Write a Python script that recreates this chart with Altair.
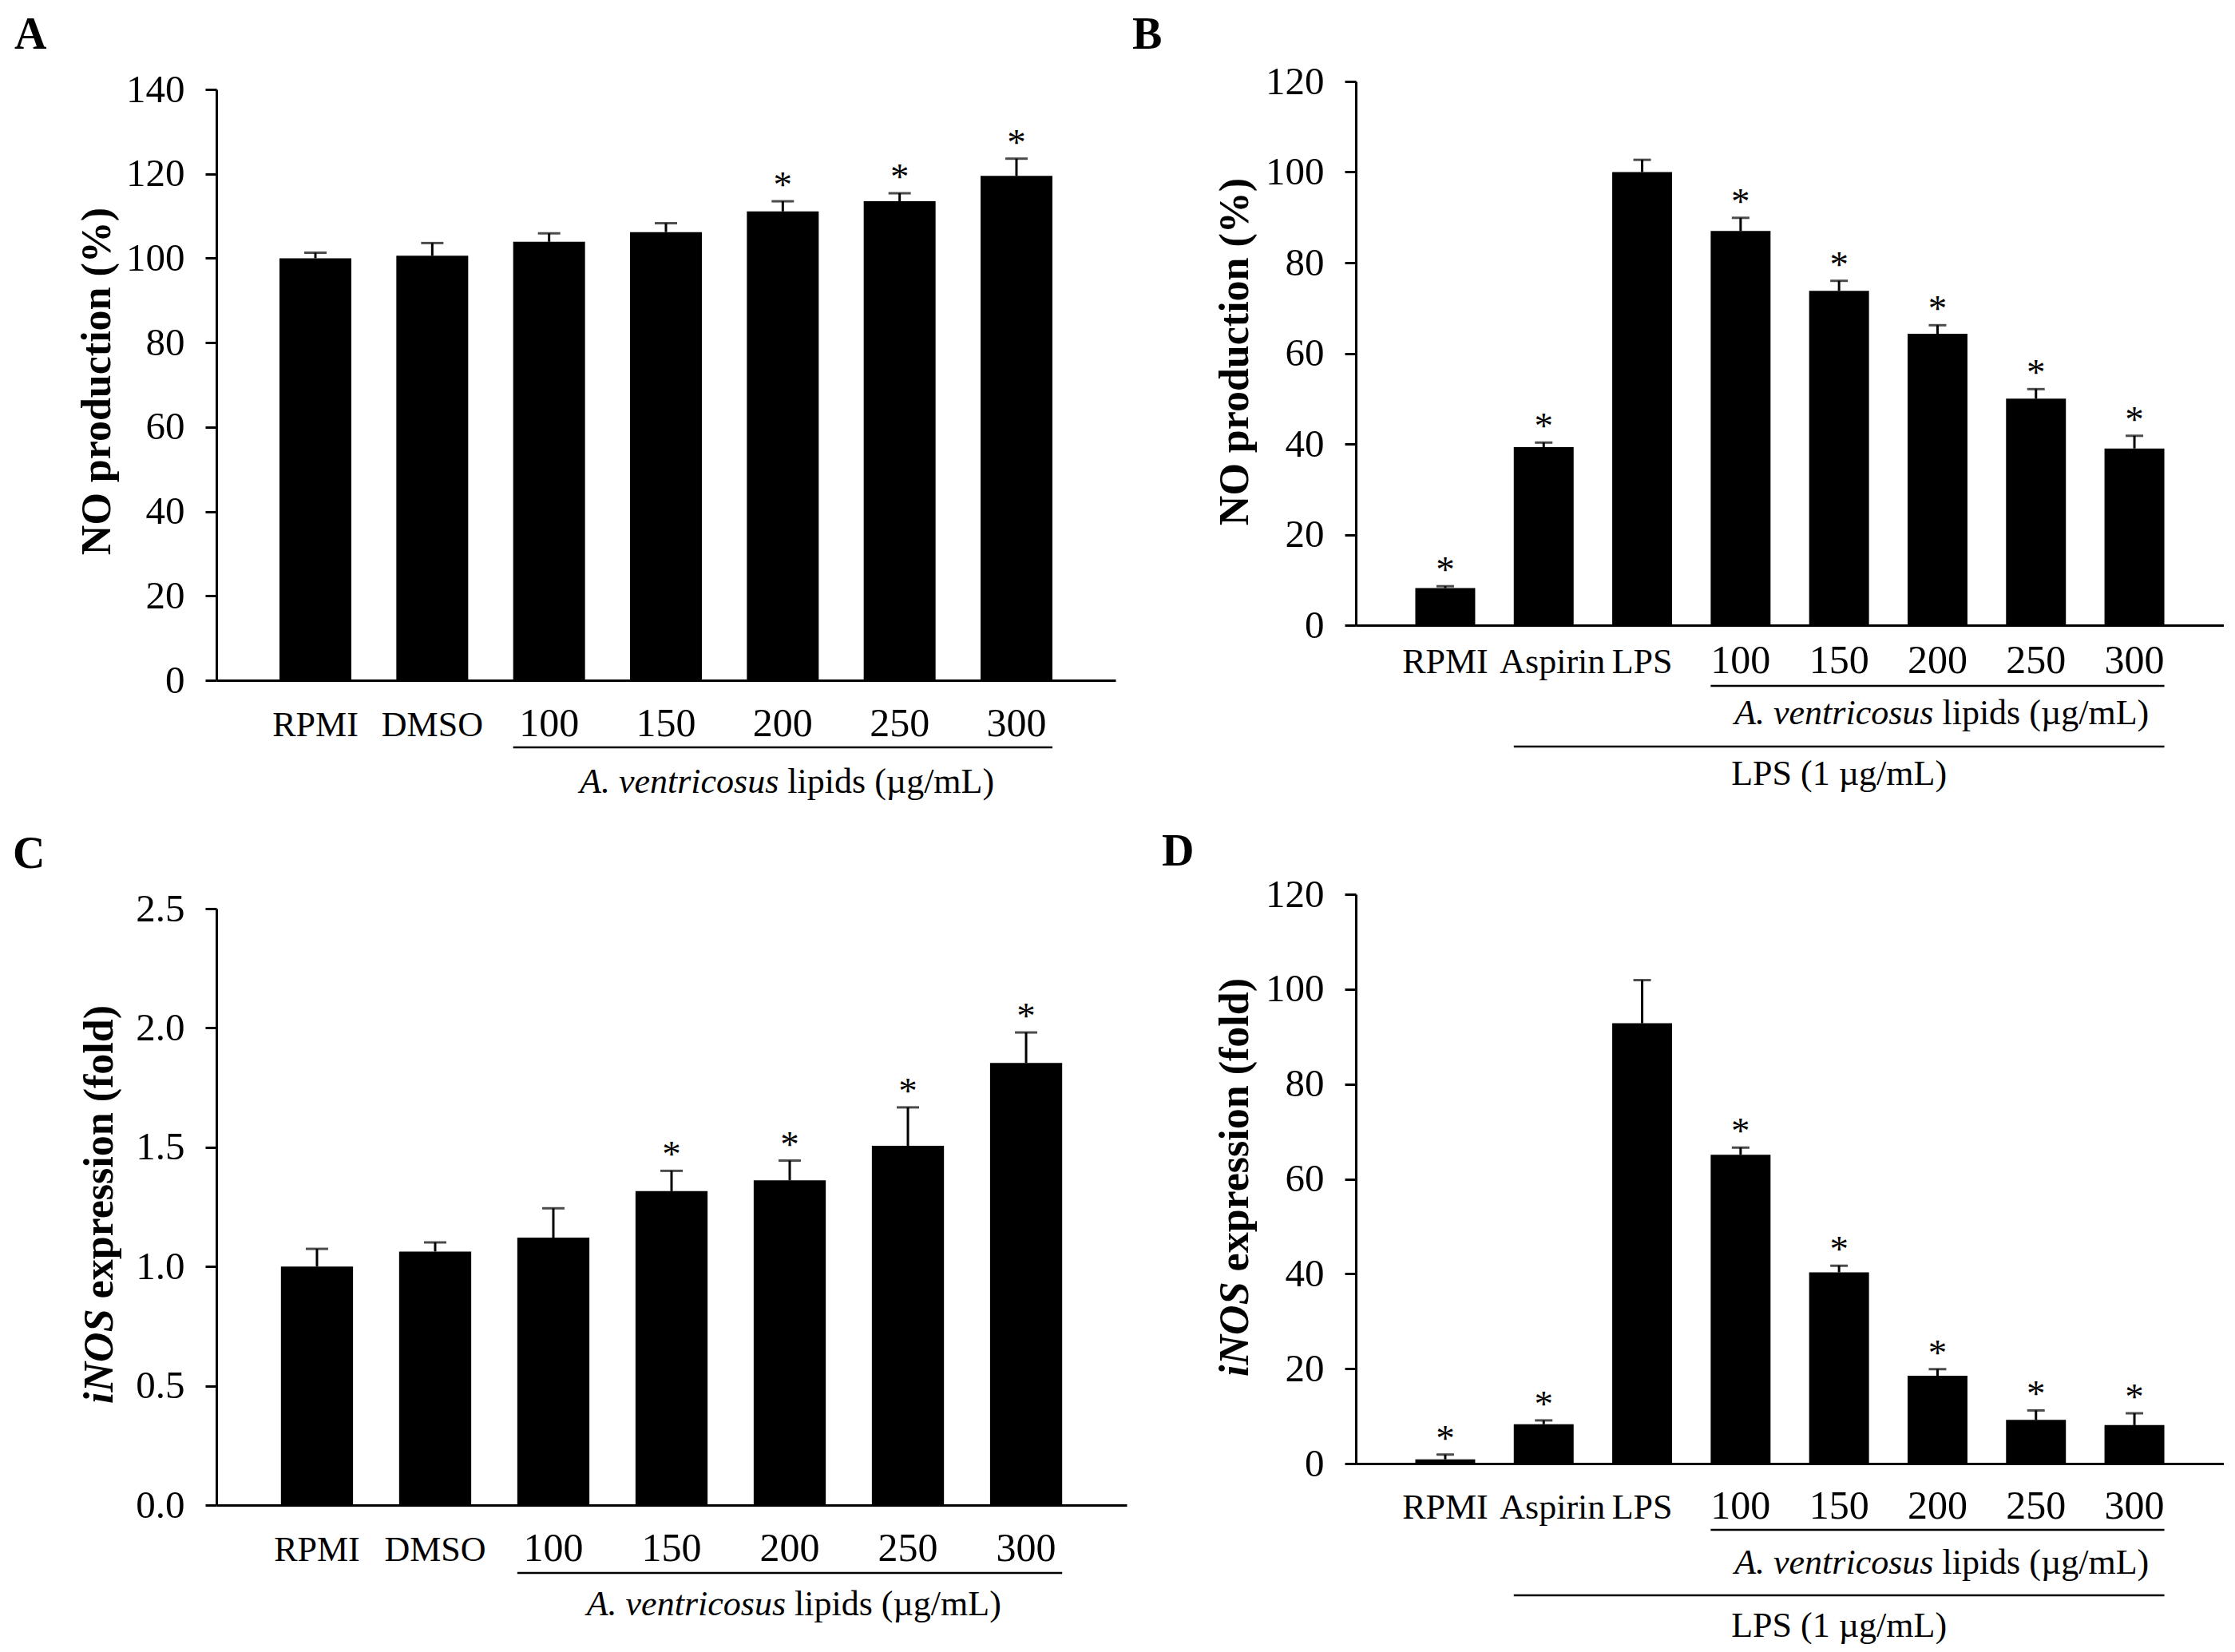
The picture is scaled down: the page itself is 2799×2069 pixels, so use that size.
import altair as alt
import pandas as pd

FONT = "Liberation Serif"

# ---------------- data ----------------
a_cats = ["RPMI", "DMSO", "100", "150", "200", "250", "300"]
a_vals = [100.0, 100.6, 103.9, 106.2, 111.1, 113.5, 119.5]
a_errs = [1.3, 3.0, 2.0, 2.1, 2.4, 1.9, 4.1]
a_sig = [False, False, False, False, True, True, True]
a_ticks = [0, 20, 40, 60, 80, 100, 120, 140]

b_cats = ["RPMI", "Aspirin", "LPS", "100", "150", "200", "250", "300"]
b_vals = [8.2, 39.3, 100.0, 87.0, 73.8, 64.3, 50.0, 39.0]
b_errs = [0.4, 1.0, 2.7, 2.9, 2.2, 1.9, 2.1, 2.8]
b_sig = [True, True, False, True, True, True, True, True]
b_ticks = [0, 20, 40, 60, 80, 100, 120]

c_cats = ["RPMI", "DMSO", "100", "150", "200", "250", "300"]
c_vals = [1.000, 1.063, 1.121, 1.316, 1.361, 1.506, 1.853]
c_errs = [0.074, 0.038, 0.123, 0.085, 0.083, 0.161, 0.128]
c_sig = [False, False, False, True, True, True, True]
c_ticks = [0.0, 0.5, 1.0, 1.5, 2.0, 2.5]

d_cats = ["RPMI", "Aspirin", "LPS", "100", "150", "200", "250", "300"]
d_vals = [0.9, 8.3, 92.8, 65.1, 40.3, 18.5, 9.2, 8.1]
d_errs = [1.0, 0.8, 9.1, 1.5, 1.4, 1.4, 2.0, 2.5]
d_sig = [True, True, False, True, True, True, True, True]
d_ticks = [0, 20, 40, 60, 80, 100, 120]

group_italic = "A. ventricosus"
group_regular = "lipids (\u00b5g/mL)"
lps_label = "LPS (1 \u00b5g/mL)"
title_no = "NO production (%)"
title_inos_it = "iNOS"
title_inos_rest = "expression (fold)"


def build_panel(cats, vals, errs, sig, ticks, ymax, fmt, width, height, top,
                pin, pout, cap, letter, letter_xy, lab_off, ul_off, grp_off,
                ytitle=None, title_xy=None, rot_title=None, lps=None):
    df = pd.DataFrame({"cat": cats, "val": vals, "err": errs, "sig": sig})
    df["top"] = df["val"] + df["err"]

    xs = alt.Scale(domain=cats, paddingInner=pin, paddingOuter=pout)
    xax = alt.Axis(labels=False, ticks=False, title=None, grid=False,
                   domainColor="black", domainWidth=3)
    ys = alt.Scale(domain=[0, ymax], range=[height, top], nice=False, zero=True)
    yax_kw = dict(values=ticks, format=fmt, grid=False, domainColor="black",
                  domainWidth=3, tickColor="black", tickWidth=3, tickSize=14,
                  labelFont=FONT, labelFontSize=49, labelColor="black",
                  labelPadding=26, labelOverlap=False)
    if ytitle:
        yax_kw.update(title=ytitle, titleFont=FONT, titleFontSize=52,
                      titleFontWeight="bold", titleColor="black",
                      titleAngle=270, titleBaseline="middle", titleAlign="center",
                      titleX=title_xy[0], titleY=title_xy[1])
    else:
        yax_kw.update(title=None)
    yax = alt.Axis(**yax_kw)

    X = alt.X("cat:N", scale=xs, axis=xax)
    base = alt.Chart(df)

    bars = base.mark_bar(color="black").encode(
        x=X, y=alt.Y("val:Q", scale=ys, axis=yax))
    err = base.mark_rule(color="black", strokeWidth=3).encode(
        x=X, y=alt.Y("val:Q", scale=ys, axis=yax), y2="top:Q")
    caps = base.mark_tick(color="black", orient="horizontal", size=cap,
                          thickness=3).encode(
        x=X, y=alt.Y("top:Q", scale=ys, axis=yax))
    stars = base.transform_filter("datum.sig").mark_text(
        text="*", font=FONT, fontSize=47, color="black",
        baseline="alphabetic", dy=-5).encode(
        x=X, y=alt.Y("top:Q", scale=ys, axis=yax))

    names = pd.DataFrame({"cat": [c for c in cats if not c.isdigit()]})
    nums = pd.DataFrame({"cat": [c for c in cats if c.isdigit()]})
    name_txt = alt.Chart(names).transform_filter(
        "datum.cat != 'Aspirin'").mark_text(
        font=FONT, fontSize=44, color="black", baseline="alphabetic").encode(
        x=X, y=alt.value(height + lab_off), text="cat:N")
    asp_txt = alt.Chart(names).transform_filter(
        "datum.cat == 'Aspirin'").mark_text(
        font=FONT, fontSize=44, color="black", baseline="alphabetic",
        dx=11).encode(
        x=X, y=alt.value(height + lab_off), text="cat:N")
    num_txt = alt.Chart(nums).mark_text(
        font=FONT, fontSize=50, color="black", baseline="alphabetic").encode(
        x=X, y=alt.value(height + lab_off), text="cat:N")

    first_num = nums["cat"].iloc[0]
    last_num = nums["cat"].iloc[-1]
    ul = alt.Chart(pd.DataFrame({"s": [first_num], "e": [last_num]})).mark_rule(
        color="black", strokeWidth=2.5).encode(
        x=alt.X("s:N", scale=xs, axis=xax, bandPosition=0),
        x2=alt.X2("e:N", bandPosition=1),
        y=alt.value(height + ul_off))

    mid = "200"
    g_it = alt.Chart(pd.DataFrame({"cat": [mid], "t": [group_italic]})).mark_text(
        font=FONT, fontSize=44, fontStyle="italic", color="black",
        align="right", baseline="alphabetic", dx=-5).encode(
        x=X, y=alt.value(height + grp_off), text="t:N")
    g_rg = alt.Chart(pd.DataFrame({"cat": [mid], "t": [group_regular]})).mark_text(
        font=FONT, fontSize=44, color="black",
        align="left", baseline="alphabetic", dx=6).encode(
        x=X, y=alt.value(height + grp_off), text="t:N")

    let = alt.Chart(pd.DataFrame({"t": [letter]})).mark_text(
        font=FONT, fontSize=56, fontWeight="bold", color="black",
        align="left", baseline="alphabetic").encode(
        x=alt.value(letter_xy[0]), y=alt.value(letter_xy[1]), text="t:N")

    layers = [bars, err, caps, stars, name_txt, asp_txt, num_txt, ul, g_it, g_rg, let]

    if lps is not None:
        rule_off, lab2_off = lps
        lps_rule = alt.Chart(pd.DataFrame({"s": [cats[1]], "e": [cats[-1]]})).mark_rule(
            color="black", strokeWidth=2.5).encode(
            x=alt.X("s:N", scale=xs, axis=xax, bandPosition=0),
            x2=alt.X2("e:N", bandPosition=1),
            y=alt.value(height + rule_off))
        lps_txt = alt.Chart(pd.DataFrame({"cat": ["150"], "t": [lps_label]})).mark_text(
            font=FONT, fontSize=44, color="black", baseline="alphabetic").encode(
            x=X, y=alt.value(height + lab2_off), text="t:N")
        layers += [lps_rule, lps_txt]

    if rot_title is not None:
        tx, center = rot_title
        fs = 52
        w_it = 2.278 * fs
        gap = 0.25 * fs
        w_rest = 7.083 * fs
        total = w_it + gap + w_rest
        anchor = center + total / 2 - w_it
        t_it = alt.Chart(pd.DataFrame({"t": [title_inos_it]})).mark_text(
            font=FONT, fontSize=fs, fontWeight="bold", fontStyle="italic",
            color="black", angle=270, align="right", baseline="middle").encode(
            x=alt.value(tx), y=alt.value(anchor), text="t:N")
        t_rest = alt.Chart(pd.DataFrame({"t": [title_inos_rest]})).mark_text(
            font=FONT, fontSize=fs, fontWeight="bold",
            color="black", angle=270, align="left", baseline="middle",
            dx=gap).encode(
            x=alt.value(tx), y=alt.value(anchor), text="t:N")
        layers += [t_it, t_rest]

    return alt.layer(*layers).properties(width=width, height=height)


A = build_panel(a_cats, a_vals, a_errs, a_sig, a_ticks, 140, "d", 1126, 750, 10,
                0.385, 0.54, 28, "A", (-253, -41), 70, 84, 141,
                ytitle=title_no, title_xy=(-150, 375))
B = build_panel(b_cats, b_vals, b_errs, b_sig, b_ticks, 120, "d", 1087, 681, 0,
                0.392, 0.604, 22, "B", (-280, -41), 60, 76, 124,
                ytitle=title_no, title_xy=(-152, 338), lps=(152, 200))
C = build_panel(c_cats, c_vals, c_errs, c_sig, c_ticks, 2.5, ".1f", 1140, 765, 18,
                0.39, 0.546, 28, "C", (-255, -33), 70, 85, 138,
                rot_title=(-146, 388))
D = build_panel(d_cats, d_vals, d_errs, d_sig, d_ticks, 120, "d", 1087, 713, 0,
                0.392, 0.604, 22, "D", (-243, -36), 69, 83, 138,
                rot_title=(-151, 354), lps=(165, 217))

chart = alt.concat(A, B, C, D, columns=2,
                   spacing=alt.RowColnumber(row=268, column=287),
                   bounds="flush").properties(
    padding={"left": 8, "top": 8, "right": 0, "bottom": 0},
    background="white",
).configure_view(stroke=None)

chart.save("out.html", embed_options={"renderer": "svg", "actions": False})
